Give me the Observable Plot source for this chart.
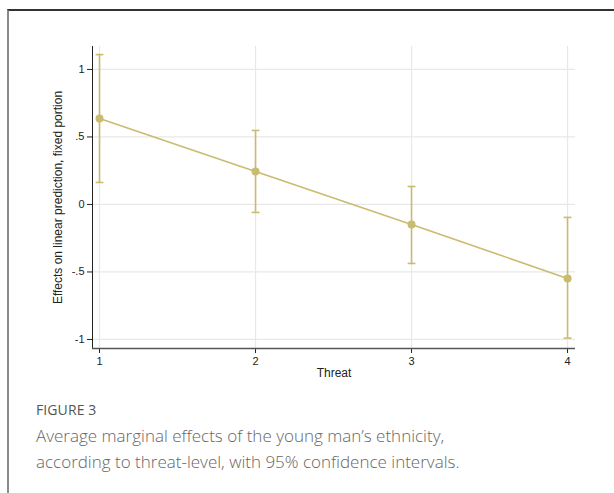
<!DOCTYPE html>
<html>
<head>
<meta charset="utf-8">
<script src="https://cdn.jsdelivr.net/npm/d3@7"></script>
<script src="https://cdn.jsdelivr.net/npm/@observablehq/plot@0.6"></script>
<style>
  html, body { margin: 0; padding: 0; background: #fff; width: 614px; height: 493px; overflow: hidden; }
  #frame { position: absolute; left: 7px; top: 9px; width: 620px; height: 500px;
           border-top: 2px solid #333; border-left: 2px solid #8a8a8a; box-sizing: border-box; }
  #chart { position: absolute; left: 0; top: 0; }
  #cap { position: absolute; left: 36px; top: 400px; font-family: "Open Sans", sans-serif; color: #5e5e5e; }
  #cap .fig { font-size: 14px; font-weight: 500; letter-spacing: 0.1px; margin-bottom: 4px; color: #555; }
  #cap .txt { font-size: 17px; font-weight: 300; line-height: 26px; color: #666; }
</style>
</head>
<body>
<div id="frame"></div>
<div id="chart"></div>
<div id="cap">
  <div class="fig">FIGURE 3</div>
  <div class="txt">Average marginal effects of the young man’s ethnicity,<br>according to threat-level, with 95% confidence intervals.</div>
</div>
<script>
const threat = [1, 2, 3, 4];
const effect = [0.637, 0.244, -0.148, -0.548];
const lower = [0.163, -0.059, -0.437, -0.99];
const upper = [1.11, 0.548, 0.133, -0.096];
const yTicks = [-1, -0.5, 0, 0.5, 1];
const yTickLabels = ["-1", "-.5", "0", ".5", "1"];
const xTicks = [1, 2, 3, 4];
const xTitle = "Threat";
const yTitle = "Effects on linear prediction, fixed portion";

const data = threat.map((t, i) => ({x: t, y: effect[i], lo: lower[i], hi: upper[i]}));
const col = "#c9bb6f";
const xDom = [0.955, 4.051];
const yDom = [-1.067, 1.17];

const plot = Plot.plot({
  width: 614,
  height: 390,
  marginLeft: 92,
  marginRight: 39,
  marginTop: 46,
  marginBottom: 42,
  style: {fontFamily: "Liberation Sans, Arial, sans-serif", fontSize: "11px", color: "#222", background: "transparent"},
  x: {domain: xDom, ticks: xTicks, tickSize: 5, tickFormat: d => String(d), label: null, tickPadding: 4},
  y: {domain: yDom, ticks: yTicks, tickSize: 5, tickFormat: d => yTickLabels[yTicks.indexOf(d)], label: null, tickPadding: 3},
  marks: [
    Plot.gridY(yTicks, {stroke: "#e8e8e8", strokeOpacity: 1, strokeWidth: 1.2}),
    Plot.gridX(xTicks, {stroke: "#e8e8e8", strokeOpacity: 1, strokeWidth: 1.2}),
    Plot.ruleX([xDom[0]], {stroke: "#222", strokeWidth: 1}),
    Plot.ruleY([yDom[0]], {stroke: "#555", strokeWidth: 1.5}),
    Plot.ruleX(data, {x: "x", y1: "lo", y2: "hi", stroke: col, strokeWidth: 1.6}),
    Plot.link(data, {x1: d => d.x - 0.025, x2: d => d.x + 0.025, y1: "hi", y2: "hi", stroke: col, strokeWidth: 1.6}),
    Plot.link(data, {x1: d => d.x - 0.025, x2: d => d.x + 0.025, y1: "lo", y2: "lo", stroke: col, strokeWidth: 1.6}),
    Plot.line(data, {x: "x", y: "y", stroke: col, strokeWidth: 1.6}),
    Plot.dot(data, {x: "x", y: "y", r: 4, fill: col, stroke: "none"}),
    Plot.text([xTitle], {text: d => d, frameAnchor: "bottom", textAnchor: "middle", lineAnchor: "middle", dy: 25, fontSize: 12, fill: "#222"}),
    Plot.text([yTitle], {text: d => d, frameAnchor: "left", textAnchor: "middle", lineAnchor: "middle", dx: -34, rotate: -90, fontSize: 12, fill: "#222"})
  ]
});
document.getElementById("chart").appendChild(plot);
</script>
</body>
</html>
